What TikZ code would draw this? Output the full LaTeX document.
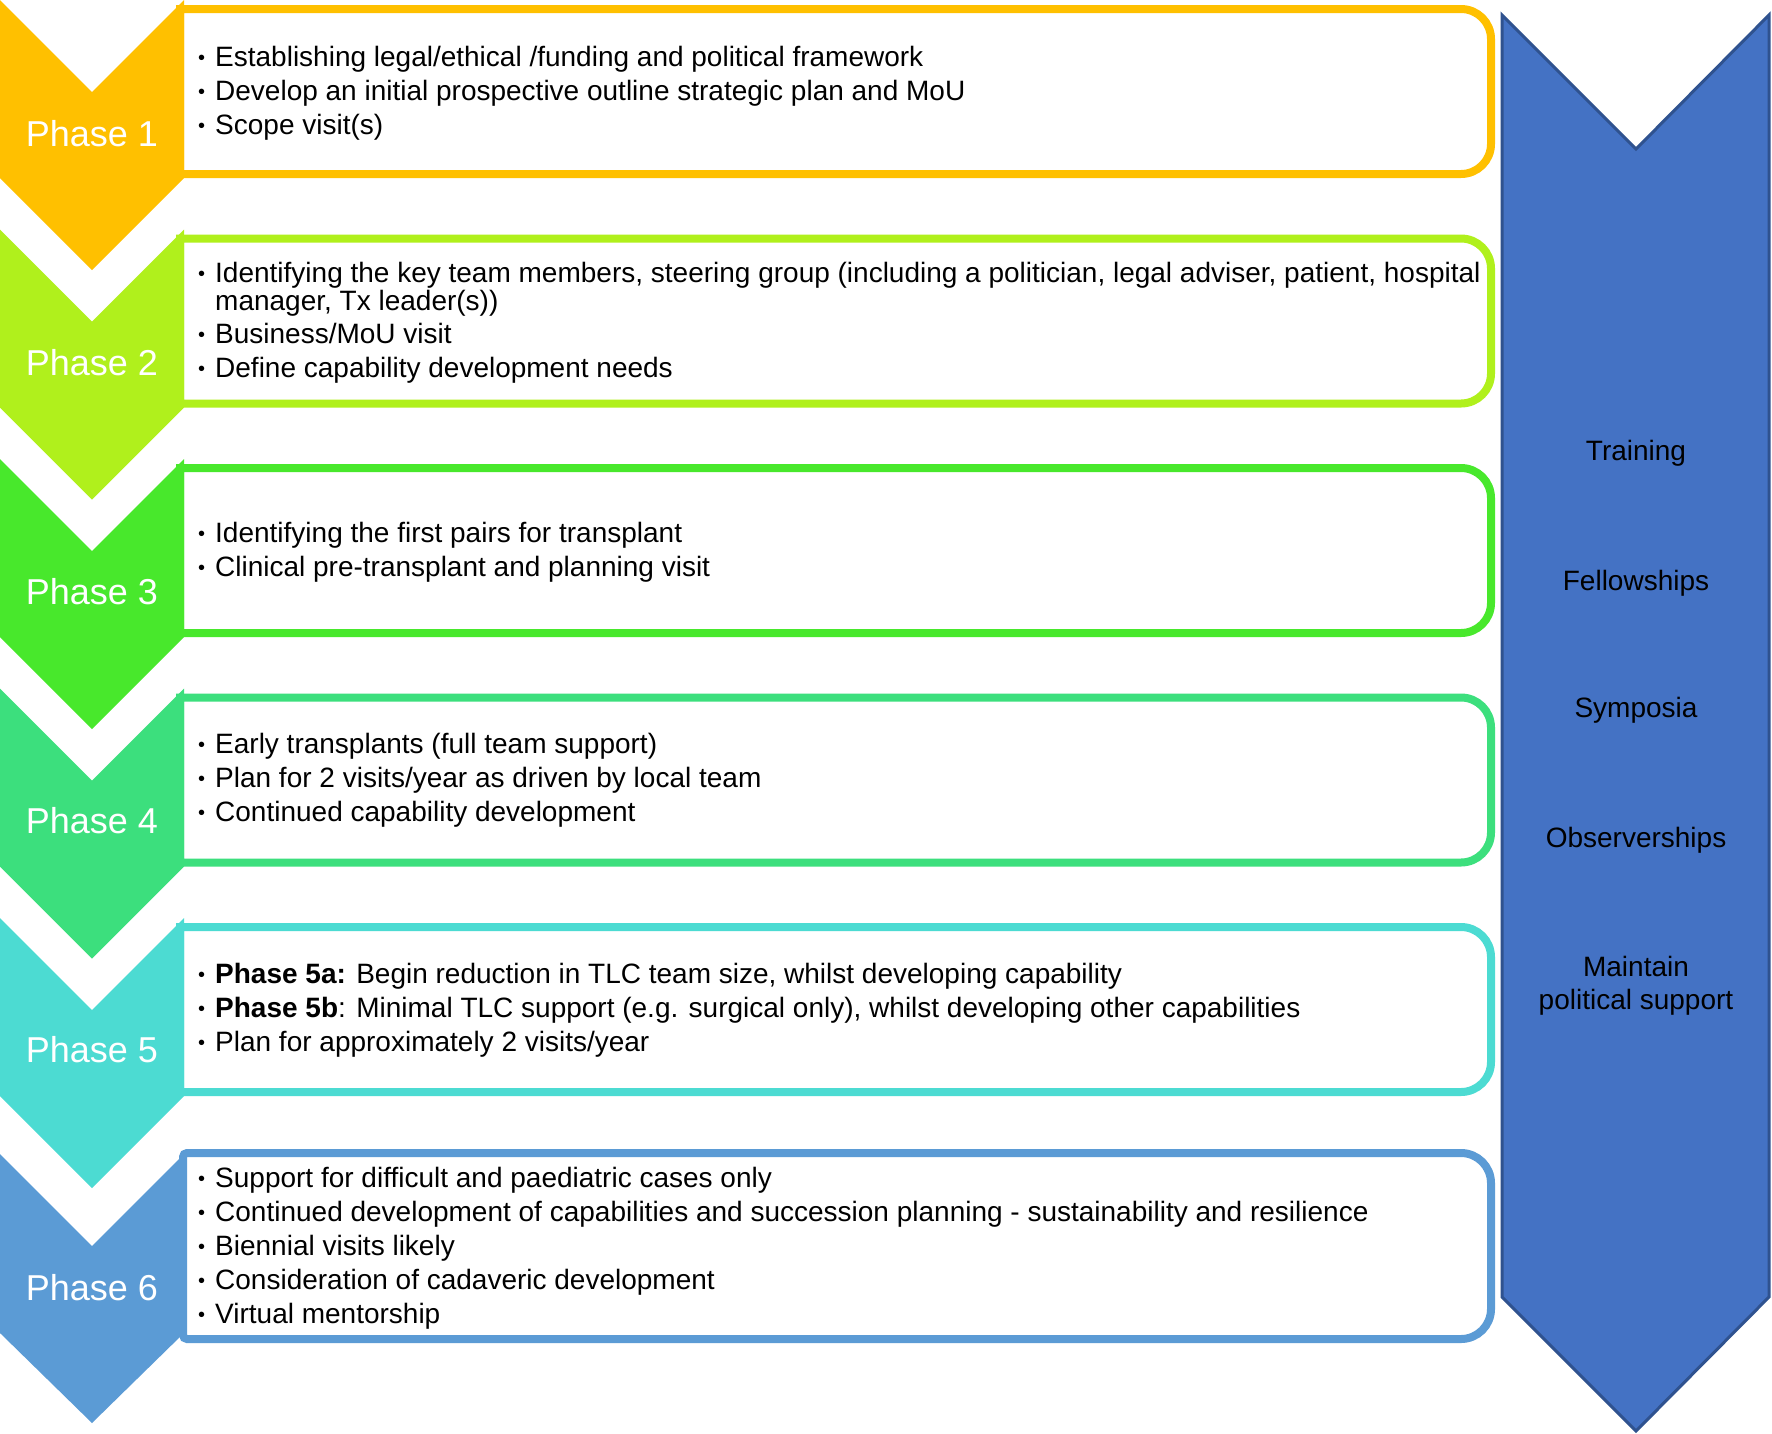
\documentclass[tikz,border=0pt]{standalone}
\usepackage{fontspec}
\setmainfont{Liberation Sans}
\definecolor{cA}{HTML}{FFC000}
\definecolor{cB}{HTML}{B0F01C}
\definecolor{cC}{HTML}{48E82C}
\definecolor{cD}{HTML}{3CDF7D}
\definecolor{cE}{HTML}{4CDBD2}
\definecolor{cF}{HTML}{5B9BD5}
\definecolor{rF}{HTML}{4472C4}
\definecolor{rD}{HTML}{2F528F}
\newcommand\bul{\makebox[17pt][l]{\raisebox{1.5pt}{\fontsize{20}{20}\selectfont •}}}
\newcommand\phbox[4]{\draw[line width=8pt, draw=#1, fill=white, line join=miter] (#4,#2) -- (1000,#2) [rounded corners=30pt] -- (1491,#2) -- (1491,#3) -- (1000,#3) [sharp corners] -- (#4,#3) -- cycle;}
\newcommand\chevshape[2]{\fill[#1] (0,#2) -- ++(92,92) -- ++(92,-92) -- ++(0,178) -- ++(-92,92) -- ++(-92,-92) -- cycle;}
\tikzset{
  plabel/.style={text=white, font=\fontsize{36}{42}\selectfont, inner sep=0pt},
  bline/.style={anchor=base west, inner sep=0pt, font=\fontsize{28}{34}\selectfont},
  rlabel/.style={anchor=base, inner sep=0pt, font=\fontsize{28}{34}\selectfont},
}
\begin{document}
\begin{tikzpicture}[x=1pt,y=-1pt]
\useasboundingbox (0,0) rectangle (1772,1433);
\fill[white] (0,0) rectangle (1772,1433);
% boxes behind chevrons
\phbox{cA}{9}{174}{180}
\phbox{cB}{238.5}{403.5}{180}
\phbox{cC}{468}{633}{180}
\phbox{cD}{697.5}{862.5}{180}
\phbox{cE}{927}{1092}{180}
% chevrons
\chevshape{cA}{0}
\chevshape{cB}{229.5}
\chevshape{cC}{459}
\chevshape{cD}{688.5}
\chevshape{cE}{918}
\fill[cF] (0,1154) -- ++(92,92) -- ++(92,-92) -- ++(0,179) -- ++(-92,90) -- ++(-92,-90) -- cycle;
% box 6 in front
\draw[line width=8pt, draw=cF, fill=white] (183,1246) [rounded corners=4pt] -- (183,1153) -- (1000,1153) [rounded corners=30pt] -- (1491,1153) -- (1491,1339) -- (1000,1339) [rounded corners=4pt] -- (183,1339) [sharp corners] -- cycle;
% phase labels
\node[plabel] (p1) at (92,134) {Phase 1};
\node[plabel] (p2) at (92,363) {Phase 2};
\node[plabel] (p3) at (92,592) {Phase 3};
\node[plabel] (p4) at (92,821) {Phase 4};
\node[plabel] (p5) at (92,1050) {Phase 5};
\node[plabel] (p6) at (92,1288) {Phase 6};
% box 1
\node[bline] (t11) at (198,66) {\bul Establishing legal/ethical /funding and political framework};
\node[bline] (t12) at (198,100) {\bul Develop an initial prospective outline strategic plan and MoU};
\node[bline] (t13) at (198,134) {\bul Scope visit(s)};
% box 2
\node[bline] (t21) at (198,282) {\bul Identifying the key team members, steering group (including a politician, legal adviser, patient, hospital};
\node[bline] (t21b) at (215,310) {manager, Tx leader(s))};
\node[bline] (t22) at (198,343) {\bul Business/MoU visit};
\node[bline] (t23) at (198,377) {\bul Define capability development needs};
% box 3
\node[bline] (t31) at (198,542) {\bul Identifying the first pairs for transplant};
\node[bline] (t32) at (198,576) {\bul Clinical pre-transplant and planning visit};
% box 4
\node[bline] (t41) at (198,753) {\bul Early transplants (full team support)};
\node[bline] (t42) at (198,787) {\bul Plan for 2 visits/year as driven by local team};
\node[bline] (t43) at (198,821) {\bul Continued capability development};
% box 5
\node[bline] (t51) at (198,983) {\bul \textbf{Phase 5a:} Begin reduction in TLC team size, whilst developing capability};
\node[bline] (t52) at (198,1017) {\bul \textbf{Phase 5b}: Minimal TLC support (e.g. surgical only), whilst developing other capabilities};
\node[bline] (t53) at (198,1051) {\bul Plan for approximately 2 visits/year};
% box 6
\node[bline] (t61) at (198,1187) {\bul Support for difficult and paediatric cases only};
\node[bline] (t62) at (198,1221) {\bul Continued development of capabilities and succession planning - sustainability and resilience};
\node[bline] (t63) at (198,1255) {\bul Biennial visits likely};
\node[bline] (t64) at (198,1289) {\bul Consideration of cadaveric development};
\node[bline] (t65) at (198,1323) {\bul Virtual mentorship};
% right chevron
\filldraw[fill=rF, draw=rD, line width=3pt, line join=miter] (1502,15) -- (1636,149) -- (1769,15) -- (1769,1297) -- (1636,1431) -- (1502,1297) -- cycle;
\node[rlabel] (r1) at (1636,460) {Training};
\node[rlabel] (r2) at (1636,590) {Fellowships};
\node[rlabel] (r3) at (1636,717) {Symposia};
\node[rlabel] (r4) at (1636,847) {Observerships};
\node[rlabel] (r5) at (1636,976) {Maintain};
\node[rlabel] (r6) at (1636,1009) {political support};
\end{tikzpicture}
\end{document}
